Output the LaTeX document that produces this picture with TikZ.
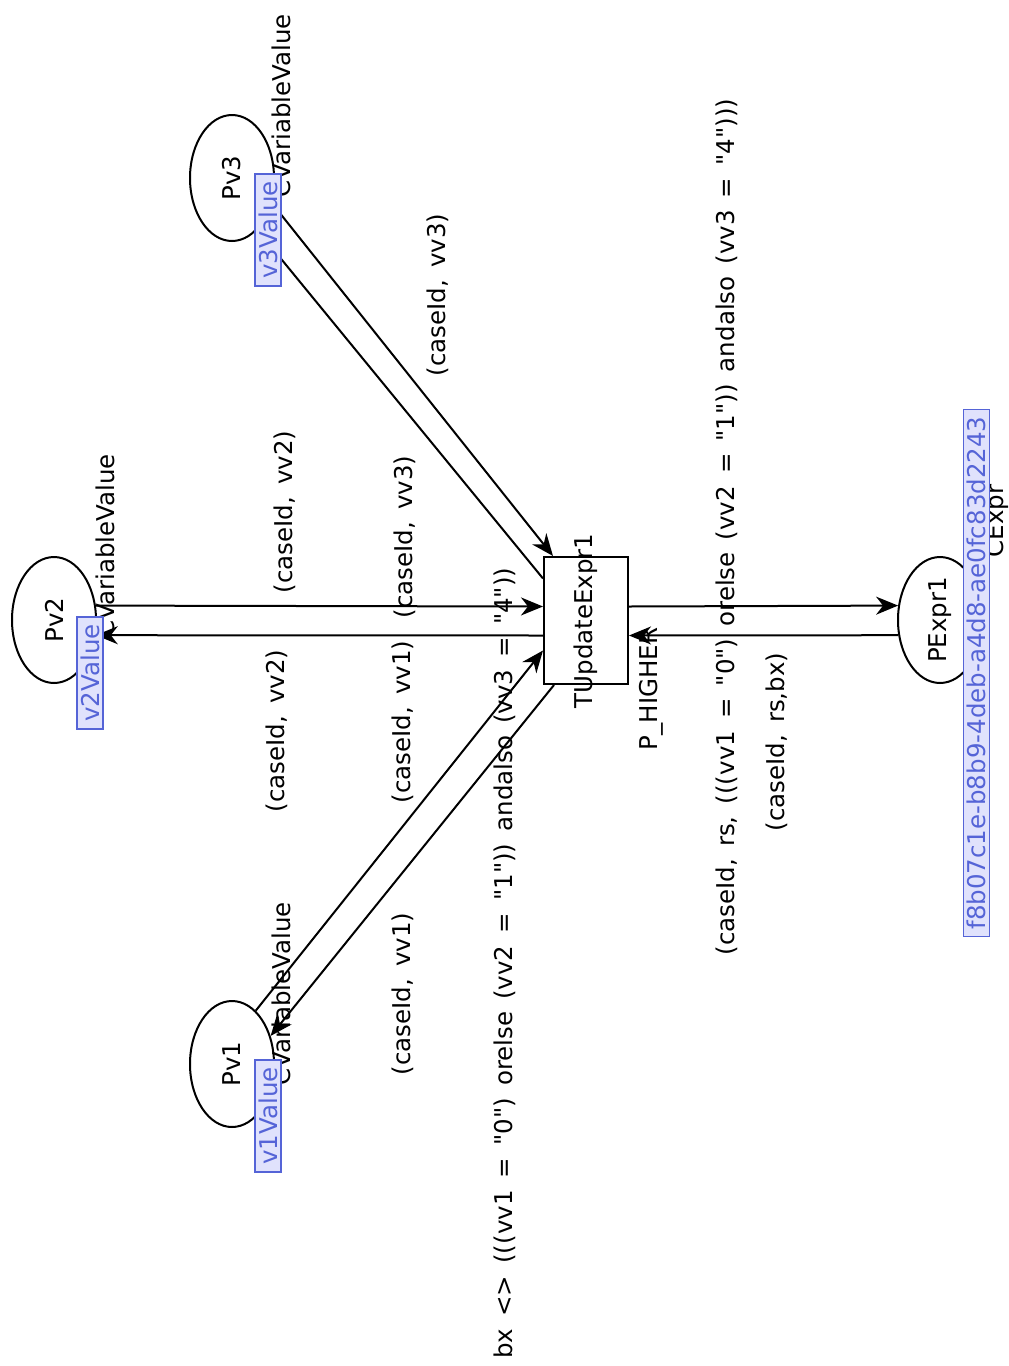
\documentclass[tikz,border=0pt]{standalone}
\usepackage{fontspec}
\setmainfont{DejaVu Sans}[Ligatures=TeXOff, WordSpace=1.55]
\usetikzlibrary{shapes.geometric,arrows.meta}
\definecolor{mkblue}{RGB}{85,100,215}
\definecolor{mkfill}{RGB}{224,226,252}
\begin{document}
\begin{tikzpicture}[x=1pt,y=-1pt,
  font=\fontsize{24.5}{29}\selectfont,
  place/.style={ellipse, draw, line width=2pt, minimum width=84pt, minimum height=126pt, inner sep=0pt, fill=white},
  trans/.style={rectangle, draw, line width=2pt, minimum width=84pt, minimum height=127pt, inner sep=0pt, fill=white},
  arc/.style={line width=2pt, -{Stealth[length=22pt,width=18pt,inset=7pt]}},
  lbl/.style={rotate=90, inner sep=0pt},
  tok/.style={rotate=90, draw=mkblue, fill=mkfill, text=mkblue, line width=1.8pt, inner xsep=7pt, inner ysep=0pt, minimum height=26pt}
]
\useasboundingbox (0,0) rectangle (1009,1366);

% places and transition
\node[place] (pv3) at (232,178) {\rotatebox{90}{Pv3}};
\node[place] (pv2) at (54,620) {\rotatebox{90}{Pv2}};
\node[place] (pv1) at (232,1064) {\rotatebox{90}{Pv1}};
\node[place] (pexpr) at (940,620) {\rotatebox{90}{PExpr1}};
\node[trans] (t) at (586,620.5) {};

% arcs
\draw[arc] (pv2.19) -- ([yshift=14pt]t.west);
\draw[arc] ([yshift=-15pt]t.west) -- (pv2.-20);
\draw[arc] (pv3.-32) -- ([xshift=10pt]t.north west);
\draw[arc] ([yshift=42pt]t.west) -- (pv3.-64);
\draw[arc] (pv1.66) -- ([yshift=-30pt]t.west);
\draw[arc] ([xshift=11pt]t.south west) -- (pv1.36);
\draw[arc] ([yshift=14pt]t.east) -- (pexpr.161);
\draw[arc] (pexpr.200) -- ([yshift=-15pt]t.east);

% transition labels
\node[lbl] (tname) at (586,621) {TUpdateExpr1};
\node[lbl] (tprio) at (651,689) {P\_HIGHER};

% colour set labels
\node[lbl] (cs3) at (281,106) {CVariableValue};
\node[lbl] (cs2) at (105,546) {CVariableValue};
\node[lbl] (cs1) at (281,994) {CVariableValue};
\node[lbl] (cse) at (997,521) {CExpr};

% arc inscriptions
\node[lbl] (a1) at (285,512) {(caseId, vv2)};
\node[lbl] (a2) at (277,731) {(caseId, vv2)};
\node[lbl] (a3) at (438,295) {(caseId, vv3)};
\node[lbl] (a4) at (405,537) {(caseId, vv3)};
\node[lbl] (a5) at (403,994) {(caseId, vv1)};
\node[lbl] (a6) at (403,722) {(caseId, vv1)};
\node[lbl] (a7) at (727,527) {(caseId, rs, (((vv1 = "0") orelse (vv2 = "1")) andalso (vv3 = "4")))};
\node[lbl] (a8) at (777,742) {(caseId, rs,bx)};
\node[lbl, anchor=west] (guard) at (505,1359) {bx <> (((vv1 = "0") orelse (vv2 = "1")) andalso (vv3 = "4"))};

% initial markings
\node[tok] (m3) at (268,230) {v3Value};
\node[tok] (m2) at (90,673) {v2Value};
\node[tok] (m1) at (268,1116) {v1Value};
\node[tok] (me) at (976.5,673) {f8b07c1e-b8b9-4deb-a4d8-ae0fc83d2243};
\end{tikzpicture}
\end{document}
